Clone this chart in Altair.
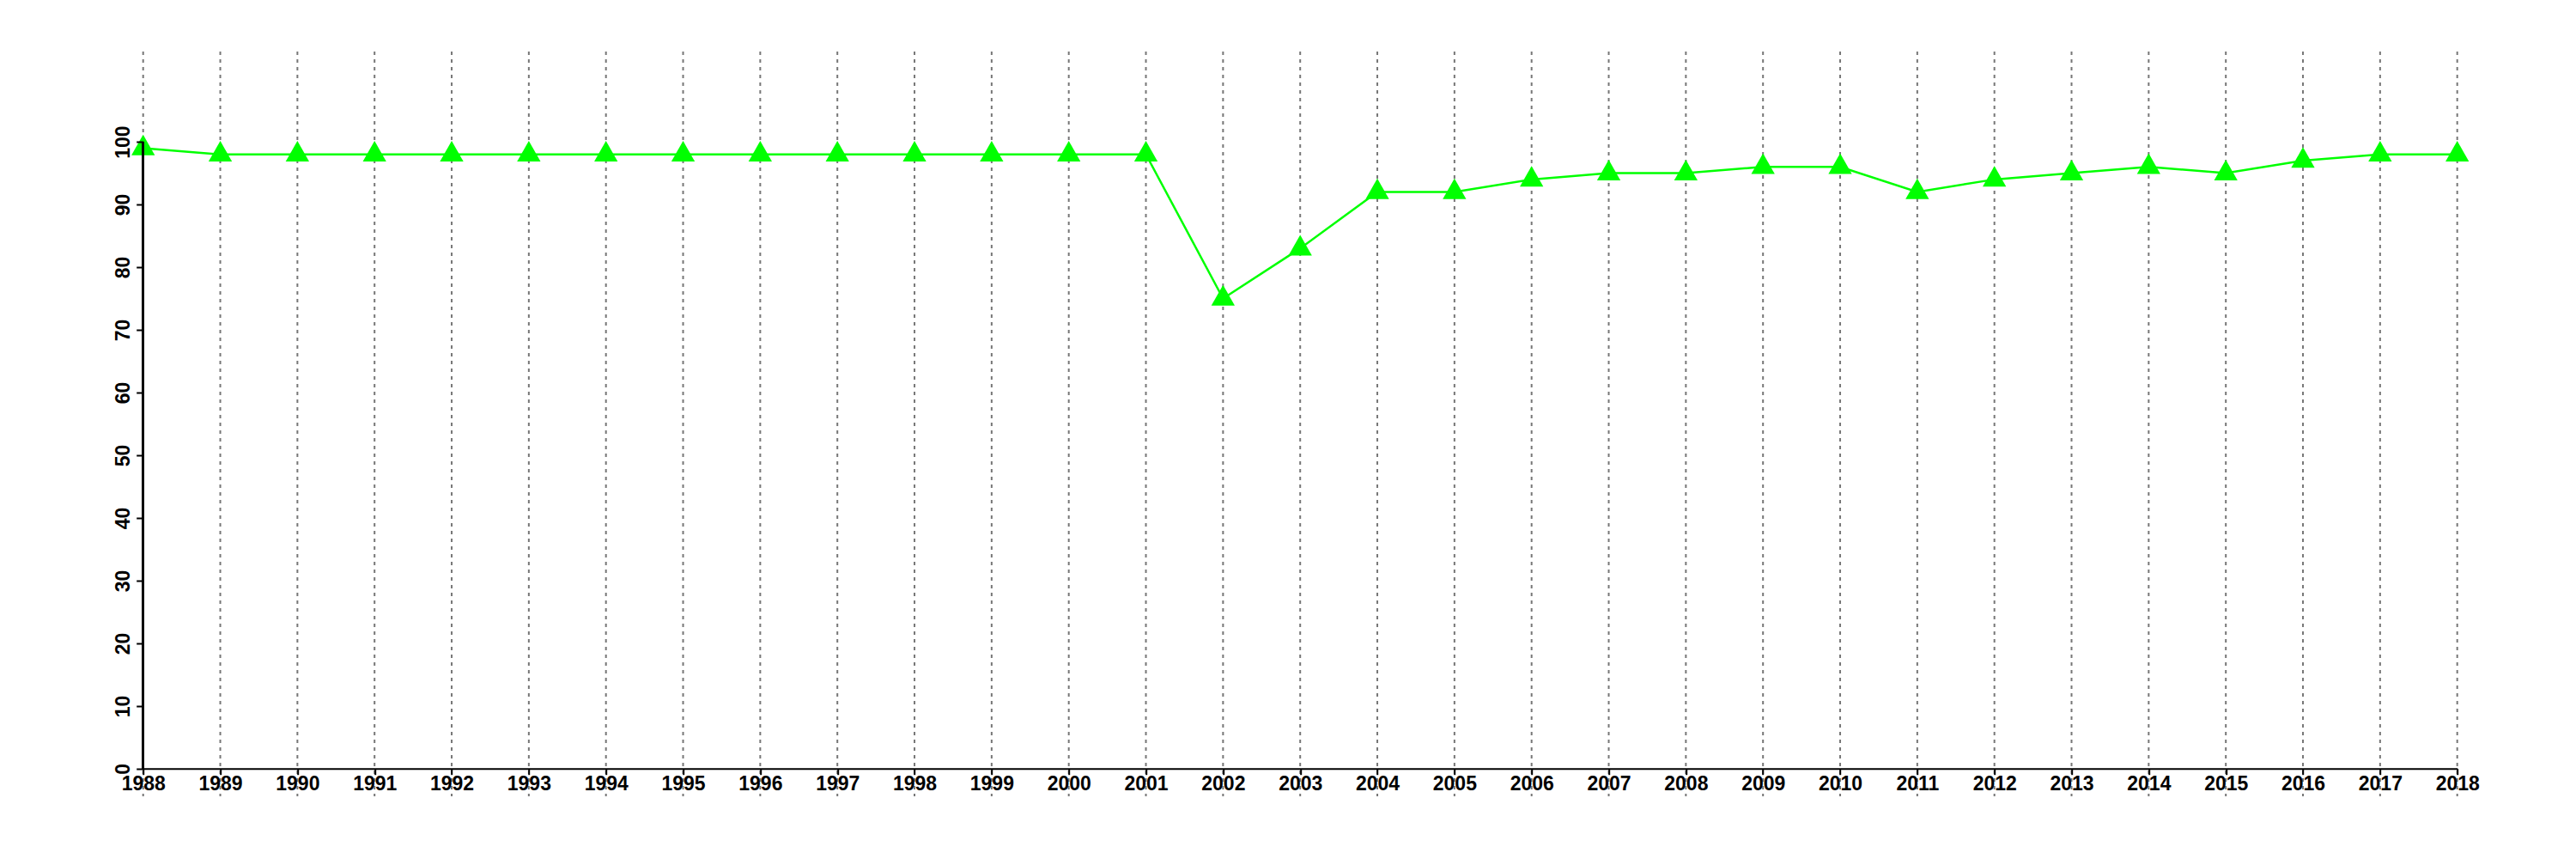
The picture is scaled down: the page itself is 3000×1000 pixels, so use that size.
import altair as alt
import pandas as pd

years = list(range(1988, 2019))
values = [99, 98, 98, 98, 98, 98, 98, 98, 98, 98, 98, 98, 98, 98,
          75, 83, 92, 92, 94, 95, 95, 96, 96, 92, 94, 95, 96, 95, 97, 98, 98]
y_ticks = [0, 10, 20, 30, 40, 50, 60, 70, 80, 90, 100]

df = pd.DataFrame({"year": years, "value": values})

W, H = 2695, 867
xscale = alt.Scale(domain=[1988, 2018], nice=False, zero=False)
yscale = alt.Scale(domain=[-4.4, 114.4], nice=False, zero=False)

FONT = "Liberation Sans"

x_axis = alt.Axis(values=years, format="d", grid=False, domain=True, domainColor="black",
                  domainWidth=2, tickColor="black", tickWidth=2, tickSize=7,
                  labelFont=FONT, labelFontSize=23, labelFontWeight="bold", labelColor="black",
                  labelPadding=0, labelFlush=False, labelOverlap=False, offset=-32.3,
                  title=None, zindex=2)
y_axis = alt.Axis(values=y_ticks, grid=False, domain=False, tickColor="black", tickWidth=2,
                  tickSize=8, labelFont=FONT, labelFontSize=23, labelFontWeight="bold",
                  labelColor="black", labelAngle=-90, labelAlign="center", labelBaseline="bottom",
                  labelPadding=3, labelFlush=False, labelOverlap=False, title=None, zindex=2)

grid = alt.Chart(df).mark_rule(color="#777777", strokeWidth=2, strokeDash=[4, 5]).encode(
    x=alt.X("year:Q", scale=xscale, axis=x_axis)
)

line = alt.Chart(df).mark_line(color="#00ff00", strokeWidth=2.5, clip=False).encode(
    x=alt.X("year:Q", scale=xscale),
    y=alt.Y("value:Q", scale=yscale, axis=y_axis),
)

tri = "M0,-1.15L1,0.61L-1,0.61Z"
points = alt.Chart(df).mark_point(shape=tri, filled=True, size=745, color="#00ff00",
                                  opacity=1, strokeWidth=0, clip=False).encode(
    x=alt.X("year:Q", scale=xscale),
    y=alt.Y("value:Q", scale=yscale),
)

yline = alt.Chart(df).mark_rule(color="black", strokeWidth=2).encode(
    x=alt.value(0),
    y=alt.datum(y_ticks[0], scale=yscale),
    y2=alt.datum(y_ticks[-1]),
)

chart = alt.layer(grid, line, points, yline).properties(
    width=W, height=H,
    autosize=alt.AutoSizeParams(type="none"),
    padding={"left": 158.7, "top": 52, "right": 120, "bottom": 60},
    background="white",
).configure_view(stroke=None)

chart.save("out.html", embed_options={"renderer": "svg", "actions": False})
